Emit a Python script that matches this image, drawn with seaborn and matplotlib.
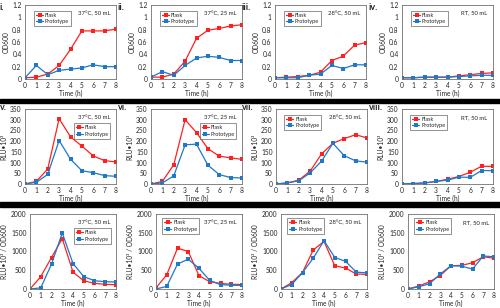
import numpy as np
import pandas as pd
import matplotlib
matplotlib.use('Agg')
import matplotlib.pyplot as plt
import seaborn as sns
from matplotlib.patches import Rectangle

sns.set_style("white")
plt.rcParams['font.family'] = ['Lato', 'DejaVu Sans']

# Data
time = [0, 1, 2, 3, 4, 5, 6, 7, 8]
conditions = ["37°C, 50 mL", "37°C, 25 mL", "28°C, 50 mL", "RT, 50 mL"]

od_flask = [
    [0.02, 0.03, 0.08, 0.22, 0.48, 0.78, 0.78, 0.78, 0.81],
    [0.03, 0.03, 0.08, 0.29, 0.66, 0.79, 0.82, 0.86, 0.88],
    [0.02, 0.03, 0.04, 0.06, 0.11, 0.30, 0.37, 0.55, 0.59],
    [0.02, 0.02, 0.03, 0.03, 0.03, 0.05, 0.07, 0.09, 0.10],
]
od_proto = [
    [0.02, 0.22, 0.07, 0.14, 0.16, 0.18, 0.23, 0.20, 0.20],
    [0.03, 0.12, 0.06, 0.22, 0.34, 0.37, 0.35, 0.30, 0.30],
    [0.02, 0.02, 0.02, 0.06, 0.08, 0.22, 0.17, 0.23, 0.23],
    [0.02, 0.02, 0.03, 0.03, 0.03, 0.04, 0.05, 0.06, 0.06],
]
rlu_flask = [
    [0, 12, 70, 305, 220, 177, 131, 109, 103],
    [0, 12, 90, 300, 240, 165, 130, 122, 115],
    [0, 5, 18, 60, 140, 190, 212, 230, 215],
    [0, 2, 5, 12, 22, 35, 55, 83, 82],
]
rlu_proto = [
    [0, 8, 45, 203, 116, 62, 53, 39, 36],
    [0, 5, 38, 183, 186, 88, 44, 30, 28],
    [0, 5, 15, 52, 106, 190, 132, 108, 102],
    [0, 2, 5, 12, 18, 32, 31, 63, 62],
]
norm_flask = [
    [0, 330, 840, 1345, 450, 220, 150, 125, 115],
    [30, 380, 1090, 1000, 355, 195, 150, 125, 120],
    [0, 170, 440, 1040, 1270, 620, 560, 400, 390],
    [0, 80, 190, 360, 620, 630, 700, 860, 820],
]
norm_proto = [
    [0, 30, 665, 1495, 680, 330, 220, 195, 185],
    [0, 70, 665, 795, 550, 230, 115, 100, 95],
    [0, 120, 440, 820, 1290, 840, 740, 450, 430],
    [0, 60, 140, 400, 620, 610, 530, 880, 860],
]

row_ylabels = ["OD600", "RLU•10³", "RLU•10³ / OD600"]
row_yticks = [[0, 0.2, 0.4, 0.6, 0.8, 1, 1.2],
              [0, 50, 100, 150, 200, 250, 300, 350],
              [0, 500, 1000, 1500, 2000]]
row_yticklabels = [["0", "0.2", "0.4", "0.6", "0.8", "1", "1.2"],
                   ["0", "50", "100", "150", "200", "250", "300", "350"],
                   ["0", "500", "1000", "1500", "2000"]]
panel_labels = [["i.", "ii.", "iii.", "iv."], ["v.", "vi.", "vii.", "viii."]]

colors = {"Flask": "#FF2020", "Prototype": "#1F78C8"}

fig = plt.figure(figsize=(5, 3.08), dpi=100)
W, H = 500, 308


def px_axes(left, top, w, h):
    return fig.add_axes([left / W, 1 - (top + h) / H, w / W, h / H])


# pixel layout of each row: lefts, widths, top, height
rows = [
    ([25, 151, 275, 402], 91, 5, 74),
    ([25, 151, 276, 402], 91, 109, 75),
    ([30, 156, 281, 408], 86, 214, 75),
]
row_data = [(od_flask, od_proto), (rlu_flask, rlu_proto), (norm_flask, norm_proto)]

# legend placement per panel: (loc, anchor)
legend_pos = [
    [("upper left", (0.07, 0.96))] * 4,
    [("upper right", (0.97, 0.85)), ("upper right", (0.97, 0.85)),
     ("upper left", (0.06, 0.96)), ("upper left", (0.06, 0.96))],
    [("upper right", (0.97, 0.85)), ("upper left", (0.04, 0.98)),
     ("upper left", (0.04, 0.98)), ("upper left", (0.04, 0.98))],
]

for r, (lefts, w, top, h) in enumerate(rows):
    flask, proto = row_data[r]
    for c in range(4):
        ax = px_axes(lefts[c], top, w, h)
        df = pd.DataFrame({
            "Time (h)": time * 2,
            "value": flask[c] + proto[c],
            "vessel": ["Flask"] * 9 + ["Prototype"] * 9,
        })
        sns.lineplot(data=df, x="Time (h)", y="value", hue="vessel",
                     palette=colors, marker="s", markersize=2.4,
                     markeredgewidth=0, linewidth=0.9, ax=ax)
        ax.set_xlim(0, 8)
        ax.set_xticks(time)
        yt = row_yticks[r]
        ax.set_ylim(yt[0], yt[-1])
        ax.set_yticks(yt)
        ax.set_yticklabels(row_yticklabels[r])
        ax.tick_params(labelsize=4.8, length=0, pad=2.5)
        ax.set_xlabel("Time (h)", fontsize=4.8, labelpad=0.5)
        ax.set_ylabel(row_ylabels[r], fontsize=4.8, labelpad=2)
        for s in ax.spines.values():
            s.set_color("#707070")
            s.set_linewidth(0.6)
        loc, anchor = legend_pos[r][c]
        leg = ax.legend(loc=loc, bbox_to_anchor=anchor, fontsize=4.0,
                        frameon=True, fancybox=False, edgecolor="#404040",
                        handlelength=1.3, handletextpad=0.3,
                        borderpad=0.35, labelspacing=0.3, title=None)
        leg.get_frame().set_linewidth(0.5)
        ax.text(0.94, 0.89, conditions[c], transform=ax.transAxes,
                ha="right", va="center", fontsize=4.3)

# panel letters (partly cut in the reference)
label_x = [0, 118, 242, 369]
for r, ly in enumerate([7, 107]):
    for c in range(4):
        fig.text(label_x[c] / W, 1 - ly / H, panel_labels[r][c],
                 fontsize=6.5, fontweight="bold", ha="left", va="center")

# black separators between rows
for y0, hh in [(99, 4), (202, 5)]:
    fig.patches.append(Rectangle((0, 1 - (y0 + hh) / H), 1, hh / H,
                                 transform=fig.transFigure, color="black"))

fig.savefig("out.png", dpi=100)
